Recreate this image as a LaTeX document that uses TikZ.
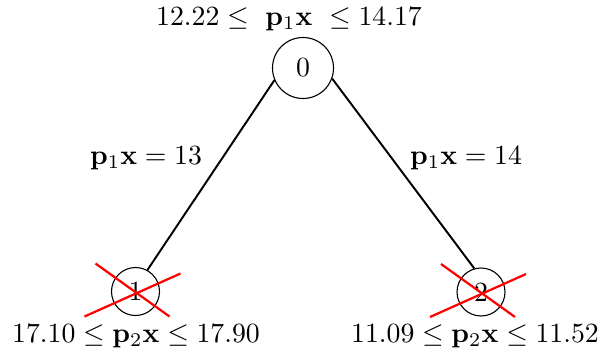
\documentclass[tikz,border=0pt]{standalone}
\usepackage{amsmath}
\begin{document}
\begin{tikzpicture}[x=0.36pt,y=-0.36pt,
  treenode/.style={draw,circle,inner sep=0pt,line width=0.4pt},
  bignode/.style={treenode,minimum size=61*0.36pt},
  smallnode/.style={treenode,minimum size=48*0.36pt},
  edgeline/.style={line width=0.7pt},
  crossline/.style={red,line width=0.8pt},
  lbl/.style={inner sep=0pt}]
\useasboundingbox (0,0) rectangle (608,358);
\node[bignode] (n0) at (303,68) {0};
\node[smallnode] (n1) at (135.5,291.5) {1};
\node[smallnode] (n2) at (481,292) {2};
\node[lbl] (t0) at (289,19) {$12.22\leq$\hspace{6pt}$\mathbf{p}_1\mathbf{x}$\hspace{6pt}$\leq 14.17$};
\node[lbl] (t1) at (136,336) {$17.10 \leq \mathbf{p}_2\mathbf{x} \leq 17.90$};
\node[lbl] (t2) at (475,336) {$11.09 \leq \mathbf{p}_2\mathbf{x} \leq 11.52$};
\draw[edgeline] (n0.203) -- (n1.61);
\draw[edgeline] (n0.-20) -- (n2.106);
\node[lbl] (e1) at (146,158) {$\mathbf{p}_1\mathbf{x} = 13$};
\node[lbl] (e2) at (466,158) {$\mathbf{p}_1\mathbf{x} = 14$};
\draw[crossline] ([shift={(-40,-28)}]n1.center) coordinate (a1) -- ([shift={(34,25)}]n1.center) coordinate (b1);
\draw[crossline] ([shift={(-51,25)}]n1.center) coordinate (c1) -- ([shift={(45,-18)}]n1.center) coordinate (d1);
\draw[crossline] ([shift={(-40,-28)}]n2.center) coordinate (a2) -- ([shift={(34,25)}]n2.center) coordinate (b2);
\draw[crossline] ([shift={(-51,25)}]n2.center) coordinate (c2) -- ([shift={(45,-18)}]n2.center) coordinate (d2);
\end{tikzpicture}
\end{document}
